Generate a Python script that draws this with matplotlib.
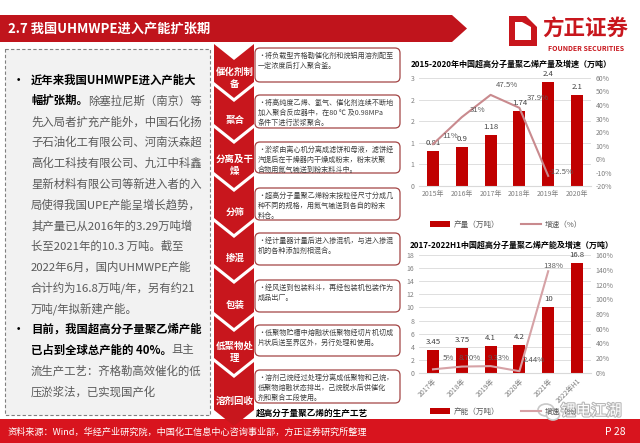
import matplotlib
matplotlib.use("Agg")
import matplotlib.pyplot as plt
import matplotlib.patheffects as pe
from matplotlib.patches import Polygon, FancyBboxPatch, Rectangle, Patch, Ellipse
from matplotlib.lines import Line2D

plt.rcParams['font.family'] = ['Noto Sans CJK SC', 'DejaVu Sans']

# ======================= data =======================
TITLE = "2.7 我国UHMWPE进入产能扩张期"

LEFT_LINES = [
    ("近年来我国UHMWPE进入产能大", ""),
    ("幅扩张期。", "除塞拉尼斯（南京）等"),
    ("", "先入局者扩充产能外，中国石化扬"),
    ("", "子石油化工有限公司、河南沃森超"),
    ("", "高化工科技有限公司、九江中科鑫"),
    ("", "星新材料有限公司等新进入者的入"),
    ("", "局使得我国UPE产能呈增长趋势，"),
    ("", "其产量已从2016年的3.29万吨增"),
    ("", "长至2021年的10.3 万吨。截至"),
    ("", "2022年6月，国内UHMWPE产能"),
    ("", "合计约为16.8万吨/年，另有约21"),
    ("", "万吨/年拟新建产能。"),
    ("目前，我国超高分子量聚乙烯产能", ""),
    ("已占到全球总产能的 40%。", "且主"),
    ("", "流生产工艺：齐格勒高效催化的低"),
    ("", "压淤浆法，已实现国产化"),
]
BULLET_LINES = [0, 12]

STEPS = ["催化剂制\n备", "聚合", "分离及干\n燥", "分筛", "掺混", "包装", "低聚物处\n理", "溶剂回收"]
STEP_TEXT = [
    "•将负载型齐格勒催化剂和烷铝用溶剂配至\n一定浓度后打入聚合釜。",
    "•将高纯度乙烯、氢气、催化剂连续不断地\n加入聚合反应器中，在80 ℃ 及0.98MPa\n条件下进行淤浆聚合。",
    "•淤浆由离心机分离成滤饼和母液，滤饼经\n汽提后在干燥器内干燥成粉末，粉末状聚\n合物用氮气输送到粉末料斗中。",
    "•超高分子量聚乙烯粉末按粒径尺寸分成几\n种不同的规格，用氮气输送到各自的粉末\n料仓。",
    "•经计量器计量后进入掺混机，与进入掺混\n机的各种添加剂相混合。",
    "•经风送到包装料斗，再经包装机包装作为\n成品出厂。",
    "•低聚物贮槽中熔融状低聚物经切片机切成\n片状后送至界区外，另行处理和使用。",
    "•溶剂己烷经过处理分离成低聚物和己烷，\n低聚物熔融状态排出，己烷脱水后供催化\n剂和聚合工段使用。",
]
PROCESS_CAPTION = "超高分子量聚乙烯的生产工艺"

TOP_TITLE = "2015-2020年中国超高分子量聚乙烯产量及增速（万吨）"
TOP_CATS = ["2015年", "2016年", "2017年", "2018年", "2019年", "2020年"]
TOP_OUTPUT = [0.81, 0.9, 1.18, 1.74, 2.4, 2.1]
TOP_GROWTH = [11, 31, 47.5, 37.9, -12.5]
TOP_GROWTH_LABELS = ["11%", "31%", "47.5%", "37.9%", "-12.5%"]
TOP_YTICKS = [0, 0.5, 1, 1.5, 2, 2.5]
TOP_YTICKLABELS = ["0", "1", "1", "2", "2", "3"]
TOP_RTICKS = [-20, -10, 0, 10, 20, 30, 40, 50, 60]

BOT_TITLE = "2017-2022H1中国超高分子量聚乙烯产能及增速（万吨）"
BOT_CATS = ["2017年", "2018年", "2019年", "2020年", "2021年", "2022年H1"]
BOT_CAPACITY = [3.45, 3.75, 4.1, 4.2, 10, 16.8]
BOT_GROWTH = [5, 8.70, 9.33, 2.44, 138]
BOT_GROWTH_LABELS = ["5%", "8.70%", "9.33%", "2.44%", "138%"]
BOT_YTICKS = [0, 2, 4, 6, 8, 10, 12, 14, 16, 18]
BOT_RTICKS = [0, 20, 40, 60, 80, 100, 120, 140, 160]

SOURCE = "资料来源：Wind，华经产业研究院，中国化工信息中心咨询事业部，方正证券研究所整理"
PAGE = "P 28"

# ======================= style / layout =======================
W, H = 640, 443
RED = '#c00000'
BANNER = '#c0141c'
FOOTER = '#d8141e'
GRAY = '#7f7f7f'
TXT = '#404040'
LINE_TOP = '#c98a8e'
LINE_BOT = '#d6a2a6'

fig = plt.figure(figsize=(6.4, 4.43), dpi=100)
bg = fig.add_axes([0, 0, 1, 1])
bg.set_xlim(0, W)
bg.set_ylim(H, 0)
bg.axis('off')

# header banner
bg.add_patch(Polygon([(0, 15), (452, 15), (467, 28.5), (452, 42), (0, 42)], closed=True,
                     fc=BANNER, ec='none'))
bg.text(8, 28.5, TITLE, color='white', fontsize=9.5, fontweight='bold', va='center', ha='left')

# logo
for r in [(509, 20, 6, 26), (509, 40, 28, 6), (531, 27, 6, 19), (509, 16, 17, 6)]:
    bg.add_patch(Rectangle((r[0], r[1]), r[2], r[3], fc='#c8161d', ec='none'))
bg.add_patch(Polygon([(526, 16), (537, 27), (531, 27), (522, 22)], closed=True, fc='#c8161d', ec='none'))
bg.text(585, 29, "方正证券", color='#c8161d', fontsize=15.5, fontweight='bold', ha='center', va='center')
bg.text(586, 48, "FOUNDER SECURITIES", color='#c8161d', fontsize=5, fontweight='bold', ha='center', va='center')

# left text box
bg.add_patch(Rectangle((5, 49), 205, 366, fc='#f2f2f2', ec='#808080', lw=0.8, ls=(0, (3, 2))))
for i, (bold, normal) in enumerate(LEFT_LINES):
    y = 80 + 20.8 * i
    if i in BULLET_LINES:
        bg.text(13, y, "•", fontsize=8.2, color='black', va='center', ha='left', fontweight='bold')
    if bold:
        t = bg.text(31, y, bold, fontsize=8.2, color='black', fontweight='bold', va='center', ha='left')
        if normal:
            bg.annotate(normal, xy=(1, 0.5), xycoords=t, fontsize=8.2, color='#595959',
                        va='center', ha='left')
    else:
        bg.text(31, y, normal, fontsize=8.2, color='#595959', va='center', ha='left')

# footer
bg.add_patch(Rectangle((0, 419), W, 24, fc=FOOTER, ec='none'))
bg.text(8, 432, SOURCE, color='white', fontsize=6.6, va='center', ha='left', style='italic')
bg.text(626, 432, PAGE, color='white', fontsize=7.5, va='center', ha='right')

# process chevrons + boxes
tops = [44, 86, 128, 176, 222, 268, 316, 362]
box_y = [(48, 82), (95, 128), (142, 173), (188, 220), (233, 265), (280, 312), (325, 356), (370, 403)]
cx0, cx1, d = 214, 254, 16
xc = (cx0 + cx1) / 2
for i, t in enumerate(tops):
    b = tops[i + 1] + d - 4 if i < len(tops) - 1 else 426
    bg.add_patch(Polygon([(cx0, t), (xc, t + d), (cx1, t), (cx1, b - d), (xc, b), (cx0, b - d)],
                         closed=True, fc='#c8161d', ec='none', zorder=3))
    bg.text(xc + 1, (t + d + b) / 2 - 1, STEPS[i], color='white', fontsize=6.8, fontweight='bold',
            ha='center', va='center', linespacing=1.2, zorder=5)
for i, (y0, y1) in enumerate(box_y):
    bg.add_patch(FancyBboxPatch((255, y0), 145, y1 - y0, boxstyle='round,pad=0,rounding_size=5',
                                fc='white', ec='#a34545', lw=0.9, zorder=4))
    bg.text(258, y0 + 4, STEP_TEXT[i], fontsize=5.1, color=TXT, va='top', ha='left',
            linespacing=1.3, zorder=5)
bg.text(312, 413, PROCESS_CAPTION, fontsize=6.2, fontweight='bold', color='black',
        ha='center', va='center', zorder=5)


def chart(box, cats, vals, growth, glabels, goffs, yticks, yticklabels, rticks, line_color,
          rotate, title, title_y, legend_y, legend_names):
    x0, y0, x1, y1 = box
    ax = fig.add_axes([x0 / W, 1 - y1 / H, (x1 - x0) / W, (y1 - y0) / H])
    ax.patch.set_alpha(0)
    xs = list(range(len(cats)))
    ax.bar(xs, vals, width=0.42, color=RED, zorder=2)
    ax.set_xlim(-0.5, len(cats) - 0.5)
    ax.set_ylim(yticks[0], yticks[-1])
    ax.set_yticks(yticks)
    ax.set_yticklabels(yticklabels)
    ax.set_xticks(xs)
    if rotate:
        ax.set_xticklabels(cats, rotation=45, ha='right', rotation_mode='anchor')
    else:
        ax.set_xticklabels(cats)
    ax.yaxis.grid(True, color='#d9d9d9', lw=0.6)
    ax.set_axisbelow(True)
    for s in ['top', 'right', 'left']:
        ax.spines[s].set_visible(False)
    ax.spines['bottom'].set_color('#d9d9d9')
    ax.tick_params(length=0, labelsize=5, labelcolor=GRAY, pad=3)
    for i, v in enumerate(vals):
        ax.annotate(f"{v:g}", (i, v), xytext=(0, 3), textcoords='offset points',
                    ha='center', va='bottom', fontsize=5.6, color=TXT)

    ax2 = ax.twinx()
    ax2.plot(xs[:len(growth)], growth, color=line_color, lw=1.5, zorder=3)
    ax2.set_ylim(rticks[0], rticks[-1])
    ax2.set_yticks(rticks)
    ax2.set_yticklabels([f"{r}%" for r in rticks])
    ax2.tick_params(length=0, labelsize=5, labelcolor=GRAY, pad=3)
    for s in ax2.spines.values():
        s.set_visible(False)
    for i, g in enumerate(growth):
        ax2.annotate(glabels[i], (i, g), xytext=goffs[i], textcoords='offset points',
                     ha='center', va='center', fontsize=5.6, color='#595959')

    fig.text((x0 + x1) / 2 / W + 0.01, 1 - title_y / H, title, fontsize=5.8, fontweight='bold',
             color='black', ha='center', va='center')
    handles = [Patch(fc=RED, ec='none'), Line2D([], [], color=line_color, lw=1.5)]
    fig.legend(handles, legend_names, ncol=2, loc='center',
               bbox_to_anchor=(506 / W, 1 - legend_y / H), bbox_transform=fig.transFigure,
               frameon=False, fontsize=5.5, labelcolor='#595959', handlelength=2.6,
               handleheight=0.8, columnspacing=2.8, handletextpad=0.5)


chart((418.6, 78, 591.4, 186), TOP_CATS, TOP_OUTPUT, TOP_GROWTH, TOP_GROWTH_LABELS,
      [(12, 6), (11, 5), (12, 7), (13, 7), (9, 3)], TOP_YTICKS, TOP_YTICKLABELS, TOP_RTICKS,
      LINE_TOP, False, TOP_TITLE, 64, 225, ["产量（万吨）", "增速（%）"])

chart((418.6, 255, 591.4, 373), BOT_CATS, BOT_CAPACITY, BOT_GROWTH, BOT_GROWTH_LABELS,
      [(11, 8), (6, 6), (6, 6), (10, 8), (4, 4)], BOT_YTICKS, [str(v) for v in BOT_YTICKS],
      BOT_RTICKS, LINE_BOT, True, BOT_TITLE, 245, 412, ["产能（万吨）", "增速（%）"])

# watermark
wm = fig.add_axes([0, 0, 1, 1])
wm.set_xlim(0, W)
wm.set_ylim(H, 0)
wm.axis('off')
wm.add_patch(Ellipse((546, 410), 16, 12, fc='none', ec='#c8c8c8', lw=1.2))
wm.add_patch(Ellipse((553, 415), 13, 10, fc='white', ec='#c8c8c8', lw=1.2))
wm.text(591, 411, "锂电江湖", fontsize=11, color='white', ha='center', va='center',
        path_effects=[pe.withStroke(linewidth=1.6, foreground='#b8b8b8')])

fig.savefig("out.png", dpi=100)
